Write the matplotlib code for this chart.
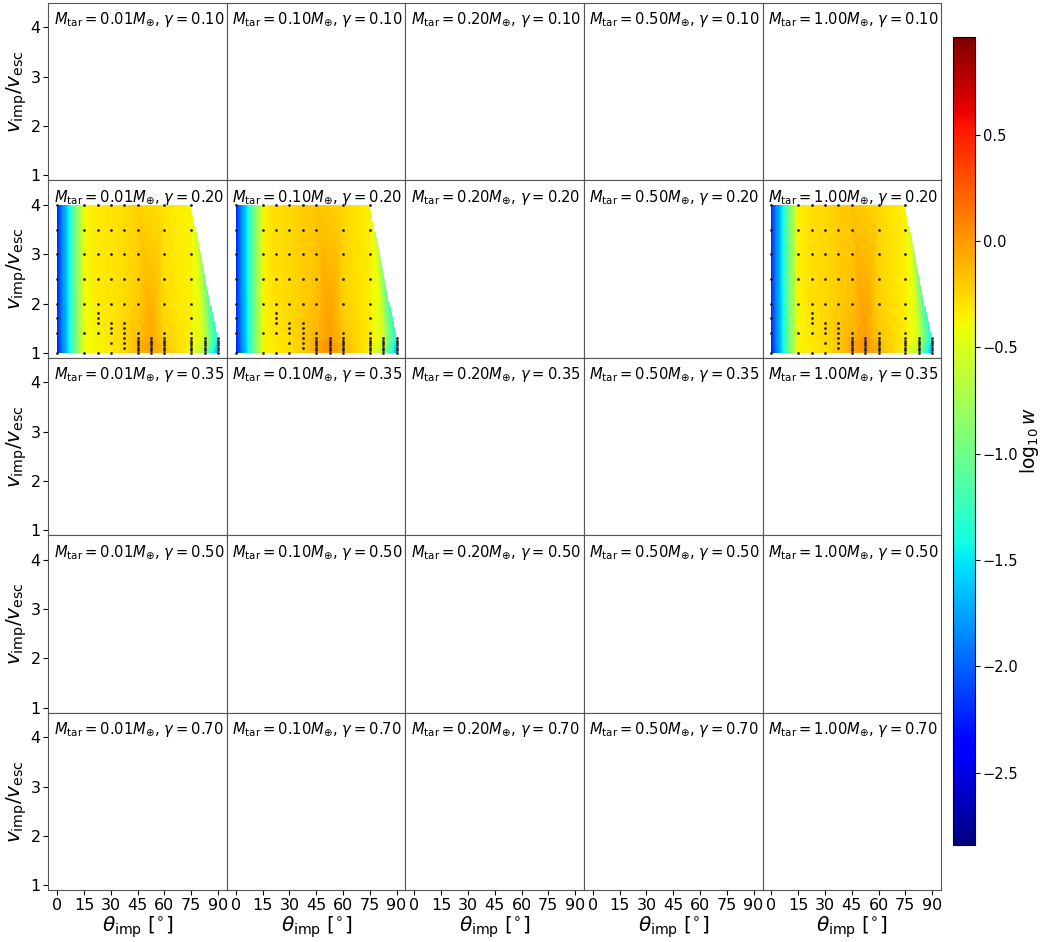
import numpy as np
import matplotlib.pyplot as plt
import matplotlib.tri as mtri
from matplotlib import cm, colors

# Panel grid
masses = [0.01, 0.10, 0.20, 0.50, 1.00]
gammas = [0.10, 0.20, 0.35, 0.50, 0.70]

# Simulation grid (impact angle columns and velocities sampled in each)
theta_cols = [0, 15, 22.5, 30, 37.5, 45, 52.5, 60, 75, 82.5, 90]
v_cols = [
    [1.0, 1.4, 1.7, 2.0, 2.5, 3.0, 3.5, 4.0],
    [1.0, 1.4, 2.0, 2.5, 3.0, 3.5, 4.0],
    [1.0, 1.4, 1.6, 1.7, 1.8, 2.0, 2.5, 3.0, 3.5, 4.0],
    [1.0, 1.2, 1.4, 1.5, 1.6, 2.0, 2.5, 3.0, 3.5, 4.0],
    [1.1, 1.2, 1.3, 1.4, 1.5, 1.6, 2.0, 2.5, 3.0, 3.5, 4.0],
    [1.0, 1.05, 1.1, 1.15, 1.2, 1.25, 1.3, 1.4, 2.0, 2.5, 3.0, 3.5, 4.0],
    [1.0, 1.05, 1.1, 1.15, 1.2, 1.25, 1.3],
    [1.0, 1.05, 1.1, 1.15, 1.2, 1.25, 1.3, 1.4, 2.0, 2.5, 3.0, 3.5, 4.0],
    [1.0, 1.05, 1.1, 1.15, 1.2, 1.25, 1.3, 1.4, 1.7, 2.0, 2.5, 3.0, 3.5, 4.0],
    [1.0, 1.05, 1.1, 1.15, 1.2, 1.25, 1.3],
    [1.0, 1.05, 1.1, 1.15, 1.2, 1.25, 1.3],
]

# log10 w, one list per column (gamma = 0.20 only)
logw_001 = [
    [-2.25, -2.2, -2.2, -2.2, -2.2, -2.2, -2.2, -2.2],
    [-0.42, -0.42, -0.42, -0.4, -0.4, -0.4, -0.4],
    [-0.38, -0.36, -0.35, -0.35, -0.35, -0.33, -0.33, -0.33, -0.33, -0.33],
    [-0.34, -0.32, -0.31, -0.31, -0.31, -0.31, -0.31, -0.31, -0.31, -0.31],
    [-0.27, -0.27, -0.25, -0.25, -0.25, -0.25, -0.27, -0.27, -0.27, -0.27, -0.27],
    [-0.13, -0.12, -0.11, -0.11, -0.12, -0.13, -0.15, -0.17, -0.2, -0.22, -0.23, -0.23, -0.23],
    [-0.04, -0.02, -0.01, -0.01, -0.02, -0.04, -0.06],
    [-0.17, -0.17, -0.18, -0.19, -0.2, -0.21, -0.22, -0.23, -0.27, -0.28, -0.29, -0.3, -0.3],
    [-0.38, -0.38, -0.37, -0.36, -0.36, -0.35, -0.35, -0.35, -0.35, -0.36, -0.36, -0.36, -0.37, -0.38],
    [-0.75, -0.7, -0.65, -0.6, -0.58, -0.55, -0.55],
    [-1.75, -1.7, -1.65, -1.6, -1.55, -1.5, -1.45],
]
logw_010 = [
    [-2.25, -2.2, -2.2, -2.2, -2.2, -2.2, -2.2, -2.2],
    [-0.38, -0.38, -0.38, -0.36, -0.36, -0.36, -0.36],
    [-0.33, -0.31, -0.3, -0.3, -0.3, -0.28, -0.28, -0.28, -0.28, -0.28],
    [-0.29, -0.27, -0.26, -0.26, -0.26, -0.26, -0.26, -0.26, -0.26, -0.26],
    [-0.21, -0.21, -0.19, -0.19, -0.19, -0.19, -0.21, -0.21, -0.21, -0.21, -0.21],
    [-0.08, -0.07, -0.06, -0.06, -0.07, -0.08, -0.1, -0.12, -0.15, -0.17, -0.18, -0.18, -0.18],
    [0.01, 0.03, 0.04, 0.04, 0.03, 0.01, -0.01],
    [-0.12, -0.12, -0.13, -0.14, -0.15, -0.16, -0.17, -0.18, -0.22, -0.23, -0.24, -0.25, -0.25],
    [-0.36, -0.36, -0.35, -0.34, -0.34, -0.33, -0.33, -0.33, -0.33, -0.34, -0.34, -0.34, -0.35, -0.36],
    [-0.72, -0.67, -0.62, -0.57, -0.55, -0.52, -0.52],
    [-1.75, -1.7, -1.65, -1.6, -1.55, -1.5, -1.45],
]
logw_100 = [
    [-2.25, -2.2, -2.2, -2.2, -2.2, -2.2, -2.2, -2.2],
    [-0.38, -0.38, -0.38, -0.36, -0.36, -0.36, -0.36],
    [-0.33, -0.31, -0.3, -0.3, -0.3, -0.28, -0.28, -0.28, -0.28, -0.28],
    [-0.29, -0.27, -0.26, -0.26, -0.26, -0.26, -0.26, -0.26, -0.26, -0.26],
    [-0.21, -0.21, -0.19, -0.19, -0.19, -0.19, -0.21, -0.21, -0.21, -0.21, -0.21],
    [-0.08, -0.07, -0.06, -0.06, -0.07, -0.08, -0.1, -0.12, -0.15, -0.17, -0.18, -0.18, -0.18],
    [0.01, 0.03, 0.04, 0.04, 0.03, 0.01, -0.01],
    [-0.12, -0.12, -0.13, -0.14, -0.15, -0.16, -0.17, -0.18, -0.22, -0.23, -0.24, -0.25, -0.25],
    [-0.36, -0.36, -0.35, -0.34, -0.34, -0.33, -0.33, -0.33, -0.33, -0.34, -0.34, -0.34, -0.35, -0.36],
    [-0.72, -0.67, -0.62, -0.57, -0.55, -0.52, -0.52],
    [-1.75, -1.7, -1.65, -1.6, -1.55, -1.5, -1.45],
]
filled = {(0.01, 0.20): logw_001, (0.10, 0.20): logw_010, (1.00, 0.20): logw_100}

vmin, vmax = -2.84, 0.96
cmap = plt.get_cmap('jet')
norm = colors.Normalize(vmin=vmin, vmax=vmax)

fig, axes = plt.subplots(5, 5, figsize=(10.41, 9.42), dpi=100)
fig.subplots_adjust(left=0.0465, right=0.904, top=0.997, bottom=0.055,
                    wspace=0, hspace=0)

th_pts = np.concatenate([[t] * len(v) for t, v in zip(theta_cols, v_cols)])
v_pts = np.concatenate(v_cols)
tri = mtri.Triangulation(th_pts, v_pts)
gx, gy = np.meshgrid(np.linspace(0, 90, 150), np.linspace(1, 4, 150))

for i, g in enumerate(gammas):
    for j, m in enumerate(masses):
        ax = axes[i, j]
        key = (m, g)
        if key in filled:
            z = np.concatenate(filled[key])
            interp = mtri.LinearTriInterpolator(tri, z)
            zi = interp(gx, gy)
            ax.imshow(zi, origin='lower', extent=[0, 90, 1, 4], cmap=cmap,
                      norm=norm, aspect='auto', interpolation='nearest')
            ax.scatter(th_pts, v_pts, s=4, c='#222222', zorder=3, lw=0)
        ax.set_xlim(-5, 95)
        ax.set_ylim(0.9, 4.5)
        ax.set_xticks([0, 15, 30, 45, 60, 75, 90])
        ax.set_yticks([1, 2, 3, 4])
        ax.text(0.03, 0.955,
                r'$M_{\rm tar}=%.2fM_{\oplus}$, $\gamma=%.2f$' % (m, g),
                transform=ax.transAxes, ha='left', va='top', fontsize=10.6)
        ax.tick_params(labelsize=11.5, pad=2)
        if j == 0:
            ax.set_ylabel(r'$v_{\rm imp}/v_{\rm esc}$', fontsize=14.5, labelpad=1)
        else:
            ax.tick_params(left=False, labelleft=False)
        if i == 4:
            ax.set_xlabel(r'$\theta_{\rm imp}$ [$^{\circ}$]', fontsize=14.5, labelpad=1)
        else:
            ax.tick_params(bottom=False, labelbottom=False)
        for sp in ax.spines.values():
            sp.set_color('#555555')

cax = fig.add_axes([0.9155, 0.103, 0.021, 0.858])
sm = cm.ScalarMappable(norm=norm, cmap=cmap)
cb = fig.colorbar(sm, cax=cax, ticks=[-2.5, -2.0, -1.5, -1.0, -0.5, 0.0, 0.5])
cb.ax.tick_params(labelsize=10.5, pad=2)
cb.set_label(r'$\log_{10}w$', fontsize=13.5, labelpad=0)

plt.savefig('out.png', dpi=100)
